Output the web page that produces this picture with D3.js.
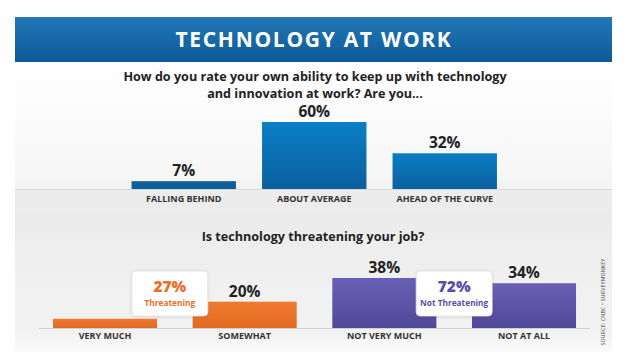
<!DOCTYPE html>
<html><head><meta charset="utf-8">
<script src="https://cdn.jsdelivr.net/npm/d3@7"></script>
<style>html,body{margin:0;padding:0;background:#fff;}svg{display:block;}</style>
</head><body>
<script>
const title = "TECHNOLOGY AT WORK";
const q1Lines = ["How do you rate your own ability to keep up with technology", "and innovation at work? Are you..."];
const q1Categories = ["FALLING BEHIND", "ABOUT AVERAGE", "AHEAD OF THE CURVE"];
const q1Values = [7, 60, 32];
const q2Title = "Is technology threatening your job?";
const q2Categories = ["VERY MUCH", "SOMEWHAT", "NOT VERY MUCH", "NOT AT ALL"];
const q2Values = [7, 20, 38, 34];
const q2Groups = ["threat", "threat", "safe", "safe"];
const calloutLabels = ["Threatening", "Not Threatening"];
const calloutValues = [27, 72];
const source = "SOURCE: CNBC • SURVEYMONKEY";

const W = 630, H = 364;
const font = "'Open Sans', 'DejaVu Sans', sans-serif";
const svg = d3.select("body").append("svg").attr("width", W).attr("height", H);
const defs = svg.append("defs");

function grad(id, stops) {
  const g = defs.append("linearGradient").attr("id", id).attr("x1", 0).attr("y1", 0).attr("x2", 0).attr("y2", 1);
  stops.forEach(([o, c]) => g.append("stop").attr("offset", o).attr("stop-color", c));
}
grad("hdr", [[0, "#2178b6"], [1, "#0c5a97"]]);
grad("blue", [[0, "#0a7fc6"], [1, "#0b5f9d"]]);
grad("orange", [[0, "#ee7a30"], [1, "#e46a22"]]);
grad("purple", [[0, "#6a60b6"], [1, "#514899"]]);
grad("panelTop", [[0, "#ffffff"], [0.7, "#f7f7f7"], [1, "#efefef"]]);
grad("panelBot", [[0, "#ebebeb"], [0.5, "#f0f0f0"], [0.85, "#f2f2f2"], [1, "#fafafa"]]);
const sh = defs.append("filter").attr("id", "shadow").attr("x", "-20%").attr("y", "-20%").attr("width", "140%").attr("height", "140%");
sh.append("feDropShadow").attr("dx", 0).attr("dy", 0.5).attr("stdDeviation", 1.2).attr("flood-color", "#000").attr("flood-opacity", 0.18);

// panel background
svg.append("rect").attr("x", 15).attr("y", 62).attr("width", 597).attr("height", 150).attr("fill", "url(#panelTop)");
svg.append("rect").attr("x", 15).attr("y", 190).attr("width", 597).attr("height", 22).attr("fill", "#ececec");
svg.append("rect").attr("x", 15).attr("y", 212).attr("width", 597).attr("height", 140).attr("fill", "url(#panelBot)");

// header
svg.append("rect").attr("x", 15).attr("y", 17).attr("width", 597).attr("height", 45).attr("fill", "url(#hdr)");
svg.append("text").attr("x", 314).attr("y", 47).attr("text-anchor", "middle")
  .attr("font-family", font).attr("font-weight", 700).attr("font-size", 21).attr("letter-spacing", 1.7).attr("fill", "#fff")
  .text(title);

// Q1
svg.selectAll(".q1").data(q1Lines).join("text")
  .attr("x", 315).attr("y", (d, i) => 80.5 + i * 17.5).attr("text-anchor", "middle")
  .attr("font-family", font).attr("font-weight", 700).attr("font-size", 12.6).attr("fill", "#222")
  .text(d => d);

const x1 = d3.scaleBand().domain(q1Categories).range([118.5, 510]).paddingInner(0.2).paddingOuter(0.1);
const y1 = d3.scaleLinear().domain([0, 60]).range([189, 122]);

svg.append("line").attr("x1", 15).attr("x2", 612).attr("y1", 189.5).attr("y2", 189.5).attr("stroke", "#d8d8d8");
svg.selectAll(".b1").data(q1Values).join("rect")
  .attr("x", (d, i) => x1(q1Categories[i])).attr("width", x1.bandwidth())
  .attr("y", d => y1(d)).attr("height", d => y1(0) - y1(d))
  .attr("fill", (d, i) => i === 0 ? "#0d5f99" : "url(#blue)");
svg.selectAll(".v1").data(q1Values).join("text")
  .attr("x", (d, i) => x1(q1Categories[i]) + x1.bandwidth() / 2).attr("y", d => y1(d) - 5)
  .attr("text-anchor", "middle").attr("font-family", font).attr("font-weight", 700).attr("font-size", 15.5).attr("fill", "#222")
  .text(d => d + "%");
svg.append("g").attr("transform", "translate(0,189)")
  .call(d3.axisBottom(x1).tickSize(0).tickPadding(7))
  .call(g => g.select(".domain").remove())
  .selectAll("text").attr("font-family", font).attr("font-weight", 700).attr("font-size", 9).attr("fill", "#333");

// Q2
svg.append("text").attr("x", 313).attr("y", 240.5).attr("text-anchor", "middle")
  .attr("font-family", font).attr("font-weight", 700).attr("font-size", 12.6).attr("fill", "#222")
  .text(q2Title);

const x2 = d3.scaleBand().domain(q2Categories).range([39, 590]).paddingInner(0.255).paddingOuter(0.1);
const y2 = d3.scaleLinear().domain([0, 38]).range([328, 278]);
const col = { threat: "url(#orange)", safe: "url(#purple)" };

svg.append("line").attr("x1", 39).attr("x2", 590).attr("y1", 328.5).attr("y2", 328.5).attr("stroke", "#d0d0d0");
svg.selectAll(".b2").data(q2Values).join("rect")
  .attr("x", (d, i) => x2(q2Categories[i])).attr("width", x2.bandwidth())
  .attr("y", d => y2(d)).attr("height", d => y2(0) - y2(d))
  .attr("fill", (d, i) => col[q2Groups[i]]);
svg.selectAll(".v2").data(q2Values.slice(1)).join("text")
  .attr("x", (d, i) => x2(q2Categories[i + 1]) + x2.bandwidth() / 2).attr("y", d => y2(d) - 5)
  .attr("text-anchor", "middle").attr("font-family", font).attr("font-weight", 700).attr("font-size", 15.5).attr("fill", "#222")
  .text(d => d + "%");
svg.append("g").attr("transform", "translate(0,328)")
  .call(d3.axisBottom(x2).tickSize(0).tickPadding(5))
  .call(g => g.select(".domain").remove())
  .selectAll("text").attr("font-family", font).attr("font-weight", 700).attr("font-size", 9).attr("fill", "#333");

// callouts
const callColors = ["#e8702a", "#5a4fa6"];
const boxW = [76, 76];
const gapCenters = [
  (x2(q2Categories[0]) + x2.bandwidth() + x2(q2Categories[1])) / 2 - 5,
  (x2(q2Categories[2]) + x2.bandwidth() + x2(q2Categories[3])) / 2
];
calloutValues.forEach((v, i) => {
  const cx = gapCenters[i];
  const g = svg.append("g");
  g.append("rect").attr("x", cx - boxW[i] / 2).attr("y", 271).attr("width", boxW[i]).attr("height", 45)
    .attr("rx", 4).attr("fill", "#fff").attr("stroke", "#e6e1dc").attr("stroke-width", 0.8).attr("filter", "url(#shadow)");
  g.append("text").attr("x", cx).attr("y", 292).attr("text-anchor", "middle")
    .attr("font-family", font).attr("font-weight", 800).attr("font-size", 15.5).attr("fill", callColors[i]).text(v + "%");
  g.append("text").attr("x", cx).attr("y", 306).attr("text-anchor", "middle")
    .attr("font-family", font).attr("font-weight", 700).attr("font-size", 8.3).attr("fill", callColors[i]).text(calloutLabels[i]);
});

// source
svg.append("text").attr("transform", "translate(605,302) rotate(-90)").attr("text-anchor", "middle")
  .attr("font-family", font).attr("font-size", 5.2).attr("fill", "#444").attr("letter-spacing", 0.2).text(source);
</script>
</body></html>
